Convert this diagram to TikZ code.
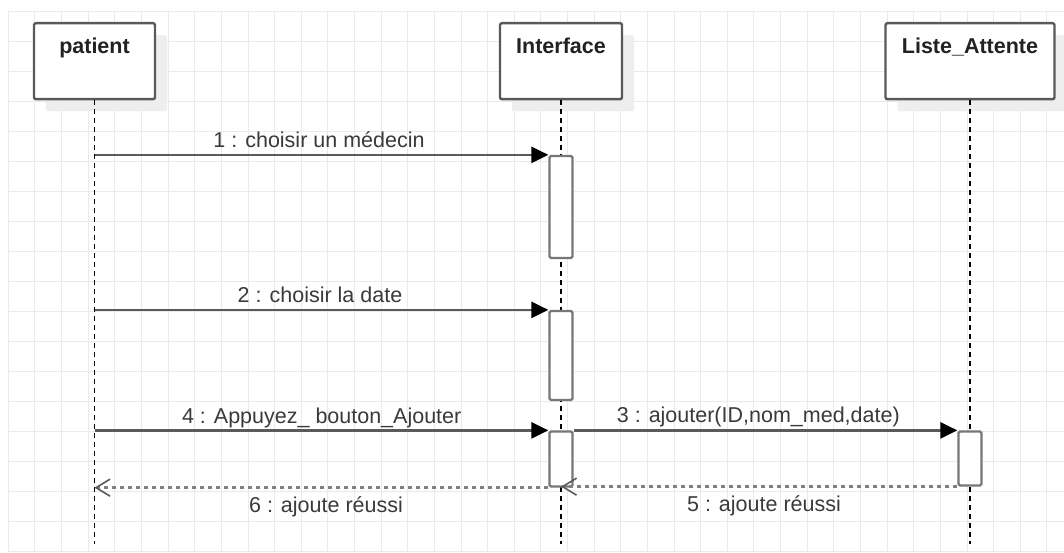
\documentclass[tikz,border=0pt]{standalone}
\usepackage{fontspec}
\setmainfont{Liberation Sans}
\usetikzlibrary{arrows.meta,shadows,calc}
\definecolor{gridc}{HTML}{EAEAEA}
\definecolor{shadowc}{HTML}{EEEEEE}
\definecolor{boxc}{HTML}{595959}
\definecolor{msgc}{HTML}{5A5A5A}
\definecolor{retc}{HTML}{808080}
\definecolor{labc}{HTML}{3A3A3A}
\definecolor{titc}{HTML}{222222}
\definecolor{actc}{HTML}{777777}
\begin{document}
\begin{tikzpicture}[x=1pt,y=-1pt,
  actor/.style={draw=boxc, line width=2.4pt, fill=white, rounded corners=2pt,
    minimum width=#1, minimum height=76pt, inner sep=0pt,
    general shadow={fill=shadowc, shadow xshift=12pt, shadow yshift=-12pt}},
  title/.style={font=\bfseries\fontsize{21.5}{24}\selectfont, text=titc, anchor=base, inner sep=0pt},
  lab/.style={font=\fontsize{21.5}{24}\selectfont, text=labc, anchor=base, inner sep=0pt},
  life/.style={draw=black, line width=1.5pt, dash pattern=on 5pt off 4pt},
  act/.style={draw=actc, line width=2.3pt, fill=white, rounded corners=1.5pt,
    minimum width=23pt, minimum height=#1, inner sep=0pt},
  msg/.style={draw=msgc, line width=2.6pt,
    -{Triangle[length=17pt,width=16pt,color=black,fill=black]}},
  ret/.style={draw=retc, line width=2.6pt, dash pattern=on 4pt off 4pt,
    -{Straight Barb[length=14pt,width=17pt,line width=1.6pt,color=msgc]}},
  gridline/.style={draw=gridc, line width=1pt}
]
\useasboundingbox (0,0) rectangle (1064,553);
\fill[white] (0,0) rectangle (1064,553);
% grid
\foreach \i in {0,...,39} {
  \draw[gridline] ({8.33+26.63*\i},11.7) -- ({8.33+26.63*\i},551.7);
}
\foreach \j in {0,...,18} {
  \draw[gridline] (8.33,{11.7+30*\j}) -- (1064,{11.7+30*\j});
}
% actors
\node[actor=121pt] (patient) at (94.5,61.2) {};
\node[actor=122pt] (interface) at (561,61.2) {};
\node[actor=169pt] (liste) at (970,61.2) {};
\node[title] (tpatient) at ([yshift=-31.8pt]patient.north) {patient};
\node[title] (tinterface) at ([yshift=-31.8pt]interface.north) {Interface};
\node[title] (tliste) at ([yshift=-31.8pt]liste.north) {Liste\_Attente};
% lifelines
\coordinate (bottom) at (0,544);
\draw[life] (patient.south) -- (patient.south |- bottom);
\draw[life] (interface.south) -- (interface.south |- bottom);
\draw[life] (liste.south) -- (liste.south |- bottom);
% activations
\node[act=102pt] (a1) at (561,207) {};
\node[act=89pt] (a2) at (561,355.5) {};
\node[act=55pt] (a3) at (561,459) {};
\node[act=54pt] (a4) at (970,458.5) {};
% messages
\draw[msg] (patient.south |- a1.north) -- (a1.north west);
\draw[msg] (patient.south |- a2.north) -- (a2.north west);
\draw[msg] (patient.south |- a3.north) -- (a3.north west);
\draw[msg] (a3.north east) -- (a4.north west);
\draw[ret] (a4.south west) -- (a3.south |- a4.south west);
\draw[ret] (a3.south west) -- (patient.south |- a3.south west);
% labels
\node[lab] (l1) at (319,147.3) {1 : choisir un médecin};
\node[lab] (l2) at (320,302.3) {2 : choisir la date};
\node[lab] (l4) at (321.7,423.5) {4 : Appuyez\_ bouton\_Ajouter};
\node[lab] (l3) at (758.3,422.3) {3 : ajouter(ID,nom\_med,date)};
\node[lab] (l5) at (764,511.7) {5 : ajoute réussi};
\node[lab] (l6) at (326,512.3) {6 : ajoute réussi};
\end{tikzpicture}
\end{document}
